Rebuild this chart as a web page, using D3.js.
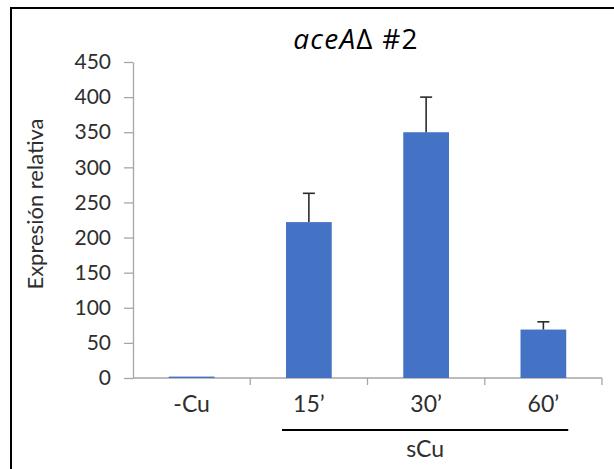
<!DOCTYPE html>
<html>
<head>
<meta charset="utf-8">
<script src="https://cdn.jsdelivr.net/npm/d3@7"></script>
<style>
  html, body { margin: 0; padding: 0; background: #fff; }
  svg { display: block; font-family: Lato, "Open Sans", sans-serif; }
</style>
</head>
<body>
<svg id="chart" width="614" height="469"></svg>
<script>
// Relative expression after copper shift
const categories = ["-Cu", "15\u2019", "30\u2019", "60\u2019"];
const values = [2, 222, 350, 69];
const errors = [0, 41, 50, 11];
const yTicks = [0, 50, 100, 150, 200, 250, 300, 350, 400, 450];
const groupLabel = "sCu";
const groupMembers = ["15\u2019", "30\u2019", "60\u2019"];

const svg = d3.select("#chart");
const textColor = "#2e2e2e";

// outer frame
svg.append("rect")
  .attr("x", 11).attr("y", 8)
  .attr("width", 620).attr("height", 480)
  .attr("fill", "none").attr("stroke", "#000").attr("stroke-width", 2);

const plot = { left: 133, right: 602, top: 62, bottom: 378 };

const y = d3.scaleLinear().domain([0, 450]).range([plot.bottom, plot.top]);
const x = d3.scaleBand().domain(categories)
  .range([plot.left, plot.right])
  .paddingInner(0.61).paddingOuter(0.305);
const step = x.step();
const bw = x.bandwidth();

// y axis
const yAxis = svg.append("g")
  .attr("transform", `translate(${plot.left},0)`)
  .call(d3.axisLeft(y).tickValues(yTicks).tickSize(9).tickPadding(13).tickSizeOuter(0));
yAxis.select(".domain").attr("stroke", "#a6a6a6").attr("stroke-width", 1.3);
yAxis.selectAll(".tick line").attr("stroke", "#a6a6a6").attr("stroke-width", 1.3);
yAxis.selectAll(".tick text")
  .attr("font-size", 21).attr("fill", textColor)
  .attr("font-family", "Lato, sans-serif");

// x axis baseline and category boundary ticks
const xAxis = svg.append("g").attr("transform", `translate(0,${plot.bottom})`);
xAxis.append("line")
  .attr("x1", plot.left).attr("x2", plot.right)
  .attr("stroke", "#a6a6a6").attr("stroke-width", 1.3);
xAxis.selectAll("line.bound")
  .data(categories)
  .join("line")
  .attr("class", "bound")
  .attr("x1", d => x(d) + bw + (step - bw) / 2)
  .attr("x2", d => x(d) + bw + (step - bw) / 2)
  .attr("y1", 0).attr("y2", 7)
  .attr("stroke", "#a6a6a6").attr("stroke-width", 1.3);

// bars
svg.append("g").selectAll("rect")
  .data(categories)
  .join("rect")
  .attr("x", d => x(d))
  .attr("width", bw)
  .attr("y", (d, i) => y(values[i]))
  .attr("height", (d, i) => y(0) - y(values[i]))
  .attr("fill", "#4472c4");

// error bars (upper only)
const eb = svg.append("g").attr("stroke", "#2b2b2b").attr("stroke-width", 1.6);
categories.forEach((c, i) => {
  if (!errors[i]) return;
  const cx = x(c) + bw / 2;
  eb.append("line").attr("x1", cx).attr("x2", cx)
    .attr("y1", y(values[i])).attr("y2", y(values[i] + errors[i]));
  eb.append("line").attr("x1", cx - 6).attr("x2", cx + 6)
    .attr("y1", y(values[i] + errors[i])).attr("y2", y(values[i] + errors[i]));
});

// category labels
svg.append("g").selectAll("text")
  .data(categories)
  .join("text")
  .attr("x", d => x(d) + bw / 2)
  .attr("y", 412)
  .attr("text-anchor", "middle")
  .attr("font-size", 23).attr("fill", textColor)
  .text(d => d);

// group bracket for the copper-shift samples
const gx1 = x(groupMembers[0]) - 4;
const gx2 = x(groupMembers[groupMembers.length - 1]) + bw + 2;
svg.append("line")
  .attr("x1", gx1).attr("x2", gx2)
  .attr("y1", 430).attr("y2", 430)
  .attr("stroke", "#000").attr("stroke-width", 2);
svg.append("text")
  .attr("x", (gx1 + gx2) / 2).attr("y", 457)
  .attr("text-anchor", "middle")
  .attr("font-size", 23).attr("fill", textColor)
  .text(groupLabel);

// y axis title
svg.append("text")
  .attr("transform", "translate(43,204) rotate(-90)")
  .attr("text-anchor", "middle")
  .attr("font-size", 22).attr("fill", textColor)
  .text("Expresión relativa");

// chart title
const title = svg.append("text")
  .attr("x", 356).attr("y", 49)
  .attr("text-anchor", "middle")
  .attr("font-family", "'Open Sans', sans-serif")
  .attr("font-size", 28).attr("fill", "#000")
  .attr("letter-spacing", 1.2);
title.append("tspan").attr("font-style", "italic").text("aceA");
title.append("tspan").text("\u0394 #2");
</script>
</body>
</html>
